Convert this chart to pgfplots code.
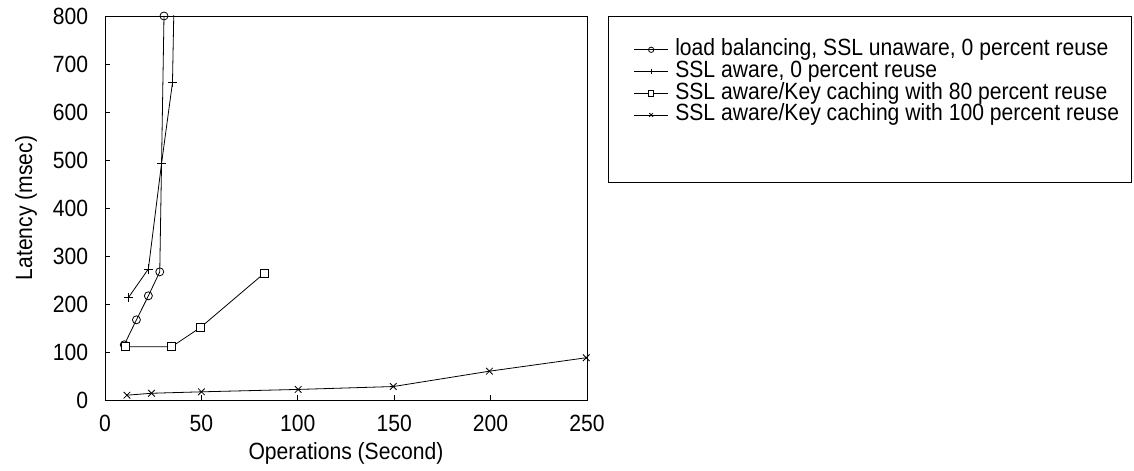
\documentclass[border=0pt]{standalone}
\usepackage{pgfplots}
\pgfplotsset{compat=1.18}
\usepackage{fontspec}
\setmainfont{Liberation Sans}[FakeStretch=0.9]
\newcommand{\chartfont}{\fontsize{17.6}{19}\selectfont}
\begin{document}
\begin{tikzpicture}
\begin{axis}[
  name=ax,
  scale only axis,
  width=361.5pt, height=288pt,
  xmin=0, xmax=250, ymin=0, ymax=800,
  xtick={0,50,100,150,200,250}, ytick={0,100,200,300,400,500,600,700,800},
  tick align=inside, xtick pos=left, ytick pos=left,
  major tick length=4pt,
  font=\chartfont,
  tick label style={font=\chartfont},
  xticklabel style={yshift=-7.7pt},
  yticklabel style={xshift=-9.2pt},
  /pgf/number format/assume math mode=true,
  xlabel={Operations (Second)}, ylabel={Latency (msec)},
  xlabel style={at={(axis description cs:0.5,-0.14)}, anchor=center},
  ylabel style={at={(axis description cs:-0.164,0.5)}, anchor=center},
  axis line style={line width=0.6pt},
  every tick/.style={black, line width=0.6pt},
  every axis plot/.append style={black, line width=0.6pt},
  legend style={at={(1.088,0.948)}, anchor=north west, draw=none, fill=none,
    font=\chartfont, row sep=0pt, column sep=3pt,
    nodes={inner ysep=0pt, text height=12.5pt, text depth=3.8pt}},
  legend cell align=left,
  legend image code/.code={\draw[mark repeat=2,mark phase=2,mark size=2pt] plot coordinates {(0cm,0cm) (0.45cm,0cm) (0.9cm,0cm)};},
]
\addplot[mark=o, mark size=3pt, mark options={fill=white, solid}] coordinates {
  (10,115) (16.3,167) (22.5,217) (28.4,267) (30.6,800)
};
\addlegendentry{load balancing, SSL unaware, 0 percent reuse}
\addplot[mark=+, mark size=3.5pt] coordinates {
  (12.1,213) (22.5,273) (29.3,492) (35,661) (35.8,830)
};
\addlegendentry{SSL aware, 0 percent reuse}
\addplot[mark=square*, mark size=3pt, mark options={fill=white}] coordinates {
  (10.4,111) (34.6,111) (49.5,151) (82.6,264)
};
\addlegendentry{SSL aware/Key caching with 80 percent reuse}
\addplot[mark=x, mark size=3.5pt] coordinates {
  (11.4,10) (24.1,14) (50,17) (100.2,22) (149.5,28) (199.4,60) (249.6,88)
};
\addlegendentry{SSL aware/Key caching with 100 percent reuse}
\end{axis}
\draw[line width=0.6pt] ([xshift=377.25pt]ax.north west) rectangle ([xshift=769.5pt,yshift=-124.5pt]ax.north west);
\pgfresetboundingbox
\path[use as bounding box] ([xshift=-78.75pt,yshift=-53.25pt]ax.south west) rectangle ([xshift=771.75pt,yshift=12pt]ax.north west);
\end{tikzpicture}
\end{document}
